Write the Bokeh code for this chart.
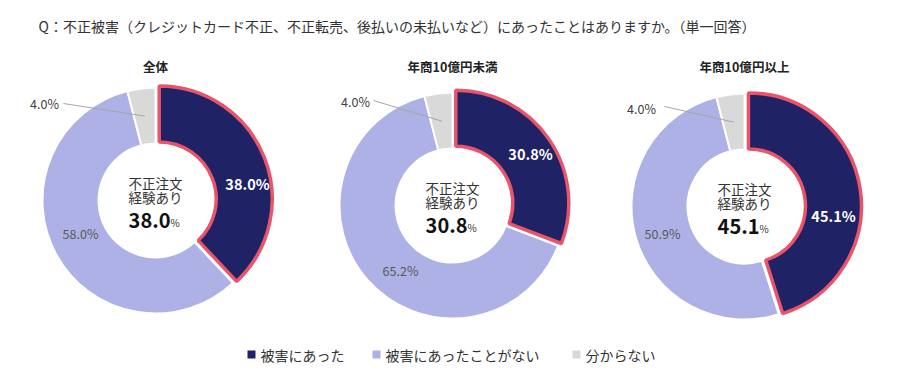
import math
from bokeh.plotting import figure
from bokeh.models import Range1d
from bokeh.core.properties import value
from bokeh.embed import file_html
from bokeh.resources import INLINE

# ---------------- data ----------------
title_text = "Q：不正被害（クレジットカード不正、不正転売、後払いの未払いなど）にあったことはありますか。（単一回答）"
groups = ["全体", "年商10億円未満", "年商10億円以上"]
categories = ["被害にあった", "被害にあったことがない", "分からない"]
damaged = [38.0, 30.8, 45.1]
not_damaged = [58.0, 65.2, 50.9]
unknown = [4.0, 4.0, 4.0]
center_caption = ["不正注文", "経験あり"]

# ---------------- style / layout ----------------
FONT = value("Noto Sans CJK JP")
colors = ["#1f2264", "#adb1e5", "#d9d9d9"]
border = "#e9546b"
W, H = 884, 369

centers = [(155, 200), (452, 205), (744, 206)]     # page pixels
R_OUT, R_IN = 113, 57
EXPLODE = 4
dark_lab_off = [(92, -17), (78, -52), (89, 9)]
light_lab_off = [(-75, 33), (-52, 65), (-82, 27)]
small_lab_off = [(-111, -97), (-97, -104), (-103, -98)]
lead_start_off = [(-92, -97), (-79, -105), (-80, -100)]

OFF_X, OFF_Y = 0, 0


def X(px):
    return px - OFF_X


def Y(py):
    return H - (py - OFF_Y)


p = figure(width=W, height=H, output_backend="svg", toolbar_location=None,
           x_range=Range1d(0, W), y_range=Range1d(0, H), min_border=0)
p.axis.visible = False
p.grid.visible = False
p.outline_line_color = None
p.background_fill_color = "white"
p.border_fill_color = "white"

# title
p.text(x=[X(38)], y=[Y(25)], text=[title_text], text_font=FONT, text_font_size="14px",
       text_color="#333333", text_baseline="middle", text_align="left")

for i, g in enumerate(groups):
    cxp, cyp = centers[i]
    cx, cy = X(cxp), Y(cyp)
    vals = [damaged[i], not_damaged[i], unknown[i]]
    total = sum(vals)
    cum = [0.0]
    for v in vals:
        cum.append(cum[-1] + v / total)
    starts = [math.pi / 2 - c * 2 * math.pi for c in cum[:-1]]
    ends = [math.pi / 2 - c * 2 * math.pi for c in cum[1:]]

    # other slices
    for k in (1, 2):
        p.annular_wedge(x=[cx], y=[cy], inner_radius=R_IN, outer_radius=R_OUT,
                        start_angle=starts[k], end_angle=ends[k], direction="clock",
                        fill_color=colors[k], line_color="white", line_width=2)
    # highlighted slice (exploded)
    mid = math.pi / 2 - (cum[0] + cum[1]) * math.pi
    ox, oy = EXPLODE * math.cos(mid), EXPLODE * math.sin(mid)
    p.annular_wedge(x=[cx + ox], y=[cy + oy], inner_radius=R_IN, outer_radius=R_OUT,
                    start_angle=starts[0], end_angle=ends[0], direction="clock",
                    fill_color=colors[0], line_color=border, line_width=3.5)

    # group title
    p.text(x=[cx], y=[Y(66)], text=[g], text_font=FONT, text_font_size="12.5px",
           text_font_style="bold", text_color="#222222", text_align="center",
           text_baseline="middle")

    # data labels
    dx, dy = dark_lab_off[i]
    p.text(x=[cx + dx], y=[cy - dy], text=[f"{damaged[i]:.1f}%"], text_font=FONT,
           text_font_size="14.5px", text_font_style="bold", text_color="white",
           text_align="center", text_baseline="middle")
    dx, dy = light_lab_off[i]
    p.text(x=[cx + dx], y=[cy - dy], text=[f"{not_damaged[i]:.1f}%"], text_font=FONT,
           text_font_size="12.5px", text_color="#595959",
           text_align="center", text_baseline="middle")
    dx, dy = small_lab_off[i]
    p.text(x=[cx + dx], y=[cy - dy], text=[f"{unknown[i]:.1f}%"], text_font=FONT,
           text_font_size="12.5px", text_color="#404040",
           text_align="center", text_baseline="middle")
    # leader line to the small slice
    gm = math.pi / 2 - (cum[2] + cum[3]) * math.pi
    rm = (R_IN + R_OUT) / 2
    sx, sy = lead_start_off[i]
    p.line(x=[cx + sx, cx + rm * math.cos(gm)], y=[cy - sy, cy + rm * math.sin(gm)],
           line_color="#a6a6a6", line_width=1)

    # center caption
    p.text(x=[cx, cx], y=[cy + 18, cy + 4], text=center_caption, text_font=FONT,
           text_font_size="13.5px", text_color="#333333", text_align="center",
           text_baseline="middle")
    p.text(x=[cx + 15], y=[cy - 20], text=[f"{damaged[i]:.1f}"], text_font=FONT,
           text_font_size="20px", text_font_style="bold", text_color="#111111",
           text_align="right", text_baseline="middle")
    p.text(x=[cx + 15], y=[cy - 22], text=["%"], text_font=FONT,
           text_font_size="10px", text_color="#333333", text_align="left",
           text_baseline="middle")

# legend
leg_sq_x = [251, 376, 576]
leg_tx_x = [260, 385, 585]
for k, c in enumerate(categories):
    p.rect(x=[X(leg_sq_x[k])], y=[Y(354)], width=8, height=8, fill_color=colors[k],
           line_color=None)
    p.text(x=[X(leg_tx_x[k])], y=[Y(354)], text=[c], text_font=FONT,
           text_font_size="14px", text_color="#333333", text_align="left",
           text_baseline="middle")

open("out.html", "w").write(file_html(p, INLINE))
